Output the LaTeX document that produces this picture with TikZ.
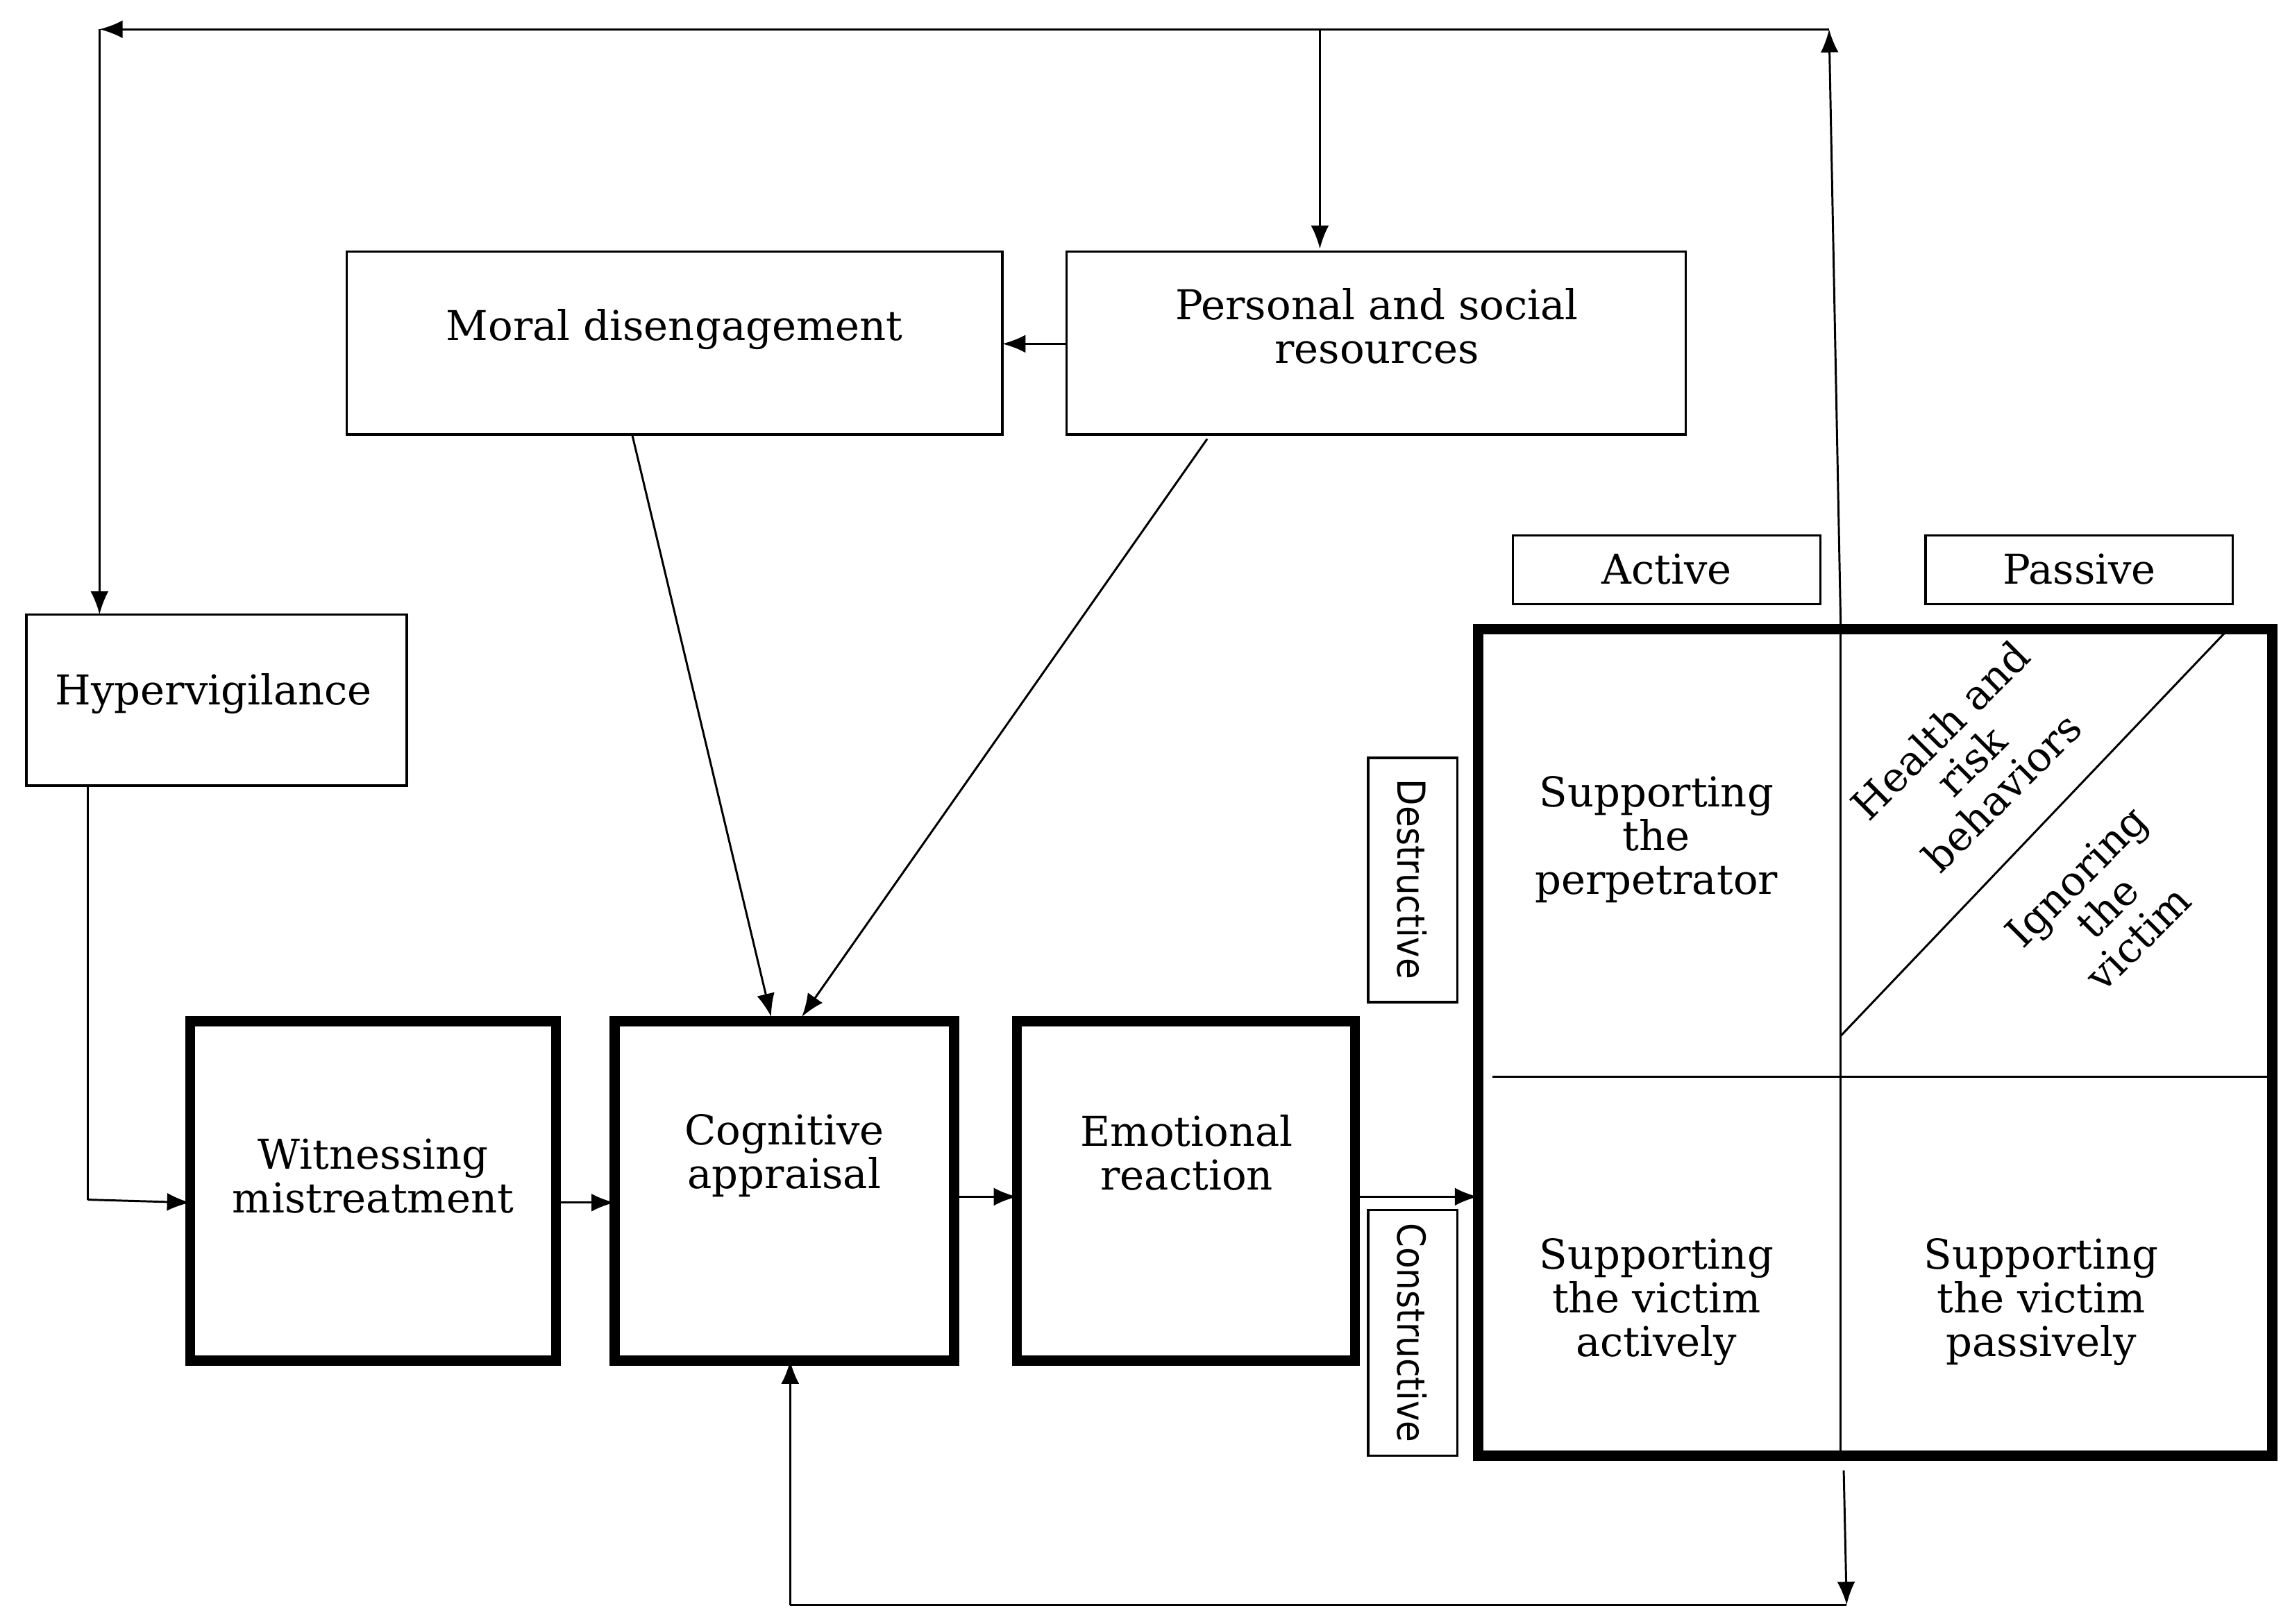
\documentclass[tikz,border=0pt]{standalone}
\usepackage{fontspec}
\setmainfont{DejaVu Serif}
\newfontfamily\sansf{DejaVu Sans Condensed}
\usetikzlibrary{arrows.meta}
\begin{document}
\begin{tikzpicture}[x=0.02cm,y=-0.02cm,
  every node/.style={font=\fontsize{16}{17}\selectfont, align=center},
  thin box/.style={draw, line width=0.9pt},
  thick box/.style={draw, line width=4pt},
  arr/.style={-{Latex[length=9pt,width=7pt]}, line width=0.8pt},
  ln/.style={line width=0.8pt}]
\useasboundingbox (0,0) rectangle (1565,1110);
% boxes
\draw[thin box] (237,172) rectangle (685,297); \node (moral) at (461,225) {Moral disengagement};
\coordinate (moralL) at (685,235);
\draw[thin box] (729,172) rectangle (1152,297); \node (pers) at (941,223) {Personal and social\\resources};
\draw[thin box] (18,420) rectangle (278,537); \node (hyper) at (146,474) {Hypervigilance};
\draw[thick box] (130,698) rectangle (380,930); \node (wit) at (255,804) {Witnessing\\mistreatment};
\draw[thick box] (420,698) rectangle (652,930); \node (cog) at (536,790) {Cognitive\\appraisal};
\draw[thick box] (695,698) rectangle (926,930); \node (emo) at (811,788) {Emotional\\reaction};
\draw[thin box] (1034,366) rectangle (1244,413); \node (act) at (1139,389) {Active};
\draw[thin box] (1316,366) rectangle (1526,413); \node (pas) at (1421,389) {Passive};
\draw[thin box] (935,518) rectangle (996,685); \node[rotate=-90,font=\sansf\fontsize{15}{18}\selectfont] (des) at (965,601) {Destructive};
\draw[thin box] (935,827) rectangle (996,995); \node[rotate=-90,font=\sansf\fontsize{15}{18}\selectfont] (con) at (965,911) {Constructive};
% grid
\draw[line width=4pt] (1010,430) rectangle (1553,995);
\draw[ln] (1258,430) -- (1258,995);
\draw[ln] (1020,736) -- (1553,736);
\draw[ln] (1258,708) -- (1520,433);
\node (spp) at (1132,574) {Supporting\\the\\perpetrator};
\node (sva) at (1132,890) {Supporting\\the victim\\actively};
\node (svp) at (1395,890) {Supporting\\the victim\\passively};
\node[rotate=45] (hrb) at (1347,520) {Health and\\risk\\behaviors};
\node[rotate=45] (ign) at (1440,620) {Ignoring\\the\\victim};
% coordinates
\coordinate (tl) at (68,20); \coordinate (tm) at (902,20); \coordinate (tr) at (1250,20);
\coordinate (gtop) at (1258,430); \coordinate (gbot) at (1260,1005);
\coordinate (bl) at (540,1097); \coordinate (br) at (1262,1097);
\coordinate (hv1) at (60,537); \coordinate (hv2) at (60,820);
% connectors
\draw[arr] (tr) -- (tl);
\draw[arr] (gtop) -- (tr);
\draw[arr] (tm) -- (902,170);
\draw[arr] (tl) -- (68,420);
\draw[arr] (729,235) -- (moralL);
\draw[ln] (hv1) -- (hv2);
\draw[arr] (hv2) -- (130,822);
\draw[arr] (380,822) -- (420,822);
\draw[arr] (652,818) -- (695,818);
\draw[arr] (926,818) -- (1010,818);
\draw[arr] (432,297) -- (527,695);
\draw[arr] (825,300) -- (548,695);
\draw[arr] (gbot) -- (br);
\draw[ln] (br) -- (bl);
\draw[arr] (bl) -- (540,930);
\end{tikzpicture}
\end{document}
